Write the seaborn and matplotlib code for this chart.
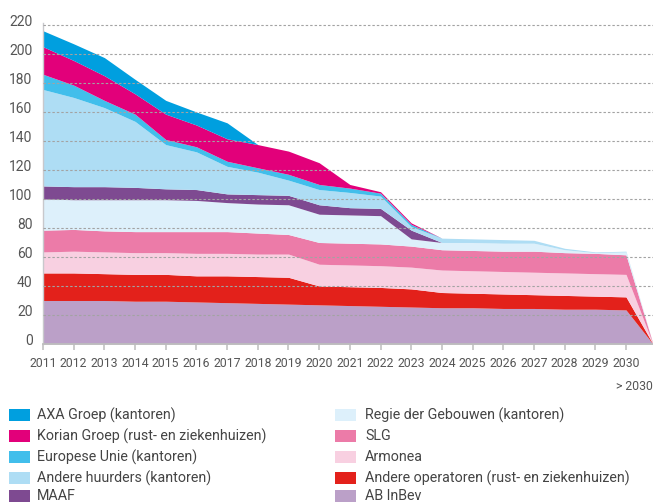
import seaborn as sns
import matplotlib.pyplot as plt
import matplotlib.transforms as mtransforms
from matplotlib.patches import Rectangle
import numpy as np

# jaren + het punt "> 2030" (rechterrand van de grafiek)
years = list(range(2011, 2031))
end_x = 2030.88
end_label = '> 2030'

# dikte van elke laag per jaar (onder -> boven), laatste waarde = "> 2030"
ab_inbev = [30, 30, 30, 29.5, 29.5, 29, 28.5, 28, 27.5, 27, 26.5, 26, 25.5, 25, 25, 24.5, 24.5, 24, 24, 23.5, 0]
andere_operatoren = [19, 19, 18.5, 18.5, 18.5, 18, 18.5, 18.5, 18.5, 13, 13, 13, 12.5, 10.5, 10, 10, 9.5, 9.5, 9, 9, 0]
armonea = [14.5, 15, 15, 15, 15, 15.5, 15.5, 15.5, 16, 15, 15, 15, 15, 15.5, 15.5, 15.5, 15.5, 15.5, 15.5, 15.5, 0]
slg = [15, 15, 14.5, 14.5, 14.5, 15, 15, 14.5, 13.5, 15, 15, 15, 14.5, 14, 14, 14, 14.5, 14, 14, 13.5, 0]
regie = [21.5, 20.5, 21.5, 22, 22, 21.5, 20, 20, 20.5, 19.5, 19.5, 19.5, 5, 5, 5.5, 5.5, 5.5, 2, 0.5, 2, 0]
maaf = [9, 9, 9, 8.5, 7.5, 7.5, 6, 6.5, 6.5, 6.5, 5, 5, 6, 0, 0, 0, 0, 0, 0, 0, 0]
andere_huurders = [66.5, 61.5, 54.5, 45.5, 30.5, 26, 19, 15.5, 10.5, 10.5, 10.5, 8.5, 2.5, 3, 2.5, 2.5, 2, 1, 0.5, 0.5, 0]
europese_unie = [10.5, 8.5, 5, 5, 3.5, 3.5, 3.5, 3, 4, 3.5, 3, 2, 1.5, 0, 0, 0, 0, 0, 0, 0, 0]
korian = [19, 17, 17, 14, 17.5, 15, 15.5, 16, 16, 15, 2.5, 1, 1, 0, 0, 0, 0, 0, 0, 0, 0]
axa = [11, 11.5, 12.5, 10, 9.5, 9, 11, 0, 0, 0, 0, 0, 0, 0, 0, 0, 0, 0, 0, 0, 0]

labels = ['AB InBev', 'Andere operatoren (rust- en ziekenhuizen)', 'Armonea', 'SLG',
          'Regie der Gebouwen (kantoren)', 'MAAF', 'Andere huurders (kantoren)',
          'Europese Unie (kantoren)', 'Korian Groep (rust- en ziekenhuizen)', 'AXA Groep (kantoren)']
colors = ['#BBA0C8', '#E3211B', '#F8D0E1', '#EC7BA8', '#DDF0FB',
          '#7E4A91', '#AEDDF4', '#41BEEB', '#E2007A', '#009FDF']
series = [ab_inbev, andere_operatoren, armonea, slg, regie, maaf,
          andere_huurders, europese_unie, korian, axa]

sns.set_style('white')
plt.rcParams['font.family'] = ['Roboto', 'DejaVu Sans']

W, H = 653, 504
fig = plt.figure(figsize=(W / 100, H / 100), dpi=100)
ax = fig.add_axes([43 / W, 1 - 344 / H, (W - 43) / W, (344 - 23.5) / H])

x = years + [end_x]
ax.stackplot(x, *series, colors=colors, linewidth=0, zorder=1)

ax.set_xlim(2011, end_x)
ax.set_ylim(0, 221)
ax.set_yticks(range(0, 221, 20))
ax.set_xticks(years)
ax.set_xticklabels([str(y) for y in years])

for v in range(20, 221, 20):
    ax.axhline(v, color='#A3A3A3', lw=0.8, ls=(0, (2.2, 1.8)), zorder=3)

sns.despine(ax=ax, top=True, right=True)
ax.spines['left'].set_color('#C8C8CC')
ax.spines['left'].set_linewidth(1.0)
ax.spines['bottom'].set_color('#BDBDBD')
ax.spines['bottom'].set_linewidth(1.3)
ax.spines['bottom'].set_zorder(4)

ax.tick_params(axis='x', direction='out', length=4.5, width=1.1, color='#BDBDBD',
               pad=5, labelsize=8.8, labelcolor='#555555', bottom=True)
ax.tick_params(axis='y', length=0, pad=7.5, labelsize=10, labelcolor='#555555')
off = mtransforms.ScaledTranslation(0, 3 / 72, fig.dpi_scale_trans)
for lab in ax.get_yticklabels():
    lab.set_transform(lab.get_transform() + off)

fig.text(1.0, 1 - 387 / H, end_label, ha='right', va='center', fontsize=8.8, color='#555555')

# legenda: twee kolommen
left_col = [9, 8, 7, 6, 5]
right_col = [4, 3, 2, 1, 0]
rows_y = [415, 436, 457, 478, 496]
for col, (px, tx) in zip([left_col, right_col], [(9, 37), (335, 365)]):
    for idx, yy in zip(col, rows_y):
        fig.patches.append(Rectangle((px / W, 1 - (yy + 6) / H), 21 / W, 12 / H,
                                     transform=fig.transFigure, color=colors[idx], lw=0))
        fig.text(tx / W, 1 - yy / H, labels[idx], ha='left', va='center',
                 fontsize=10.3, color='#444444')

fig.savefig('out.png', dpi=100)
